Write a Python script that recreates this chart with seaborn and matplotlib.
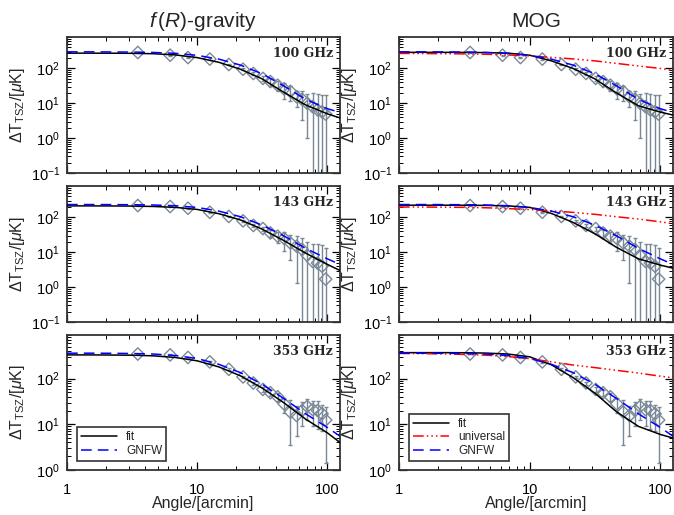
import numpy as np
import matplotlib
matplotlib.use("Agg")
import matplotlib.pyplot as plt
import seaborn as sns
from matplotlib.ticker import LogLocator, FixedLocator, FixedFormatter, NullFormatter

# measured tSZ profile (diamonds), same data in both columns
angle = [3.5, 6.2, 8.5, 12.5, 17.5, 22.5, 27, 32, 36.5, 41.5, 46.5, 52, 58, 64, 70, 77, 84, 91, 97]
dt_100 = [287, 240, 206, 186, 130, 95, 72, 52, 42, 33, 26, 22, 15.5, 13, 10, 8, 6.5, 5.7, 4.9]
err_100 = [8, 8, 8, 8, 8, 7, 7, 8, 10, 11, 13, 10, 7.5, 9.7, 9, 12, 12, 12, 13]
dt_143 = [220, 206, 184, 141, 107, 80, 59, 48, 36, 29, 25, 18.5, 15, 12, 8.2, 5.5, 4.9, 4, 1.7]
err_143 = [6, 6, 6, 6, 6, 5, 5, 7, 8, 10, 14, 12.5, 13.7, 13, 12, 12, 13, 12, 12]
dt_353 = [345, 330, 290, 232, 160, 109, 80, 58, 49, 40, 28, 18.5, 15.6, 20, 24.5, 21, 20, 17, 12.4]
err_353 = [8, 8, 8, 8, 8, 6, 6, 6, 7, 8, 10, 15, 10, 11, 12, 12, 12, 10, 11]

# model curves at these angles
curve_angle = [1, 1.5, 2.2, 3.2, 4.6, 6.8, 10, 14.7, 21.5, 31.6, 46, 68, 100, 125]
fit_fr_100 = [275, 275, 274, 272, 265, 245, 205, 150, 95, 50, 21, 9, 5, 3.8]
fit_fr_143 = [215, 215, 214, 212, 207, 195, 170, 128, 85, 46, 22, 9.5, 4.5, 3.0]
fit_fr_353 = [330, 330, 328, 325, 315, 290, 245, 180, 115, 62, 30, 13, 6.5, 4]
gnfw_100 = [300, 300, 298, 295, 288, 272, 238, 185, 125, 70, 32, 13, 7, 5.5]
gnfw_143 = [235, 235, 234, 232, 228, 217, 194, 152, 105, 60, 30, 13, 6.5, 4.5]
gnfw_353 = [360, 360, 358, 354, 345, 320, 275, 205, 135, 75, 37, 17, 8.5, 5.5]
fit_mog_100 = [290, 290, 290, 289, 286, 275, 240, 165, 100, 50, 20, 8.5, 5.6, 4.6]
fit_mog_143 = [225, 225, 225, 224, 222, 215, 195, 130, 72, 34, 14, 6.5, 4.3, 3.5]
fit_mog_353 = [370, 370, 370, 368, 362, 345, 300, 200, 105, 48, 19, 9, 6, 5]
univ_100 = [270, 268, 265, 262, 256, 245, 228, 208, 188, 165, 140, 118, 100, 88]
univ_143 = [200, 199, 197, 195, 190, 180, 168, 155, 140, 123, 105, 90, 75, 66]
univ_353 = [355, 352, 346, 338, 326, 305, 272, 233, 198, 174, 152, 132, 113, 104]

freq_labels = ["100 GHz", "143 GHz", "353 GHz"]
col_titles = [r"$f\,(R)$-gravity", "MOG"]

sns.set_style("ticks")
plt.rcParams['font.family'] = ['Liberation Sans', 'DejaVu Sans']
plt.rcParams['mathtext.fontset'] = 'custom'
plt.rcParams['mathtext.rm'] = 'Liberation Sans'
plt.rcParams['mathtext.it'] = 'Liberation Sans:italic'
plt.rcParams['mathtext.bf'] = 'Liberation Sans:bold'

data_pt = "#7a8896"

rows = [
    (dt_100, err_100, fit_fr_100, fit_mog_100, gnfw_100, univ_100, (0.1, 800)),
    (dt_143, err_143, fit_fr_143, fit_mog_143, gnfw_143, univ_143, (0.1, 800)),
    (dt_353, err_353, fit_fr_353, fit_mog_353, gnfw_353, univ_353, (1, 900)),
]

fig = plt.figure(figsize=(6.74, 5.15), dpi=100)
W, H = 674, 515
col_x = [(67, 340), (399, 673)]
row_y = [(37, 173), (186, 322), (335, 470)]

for r, (dt, err, fit_fr, fit_mog, gnfw, univ, ylim) in enumerate(rows):
    dt = np.array(dt)
    err = np.array(err)
    lo = np.minimum(err, dt * 0.999)
    for c in range(2):
        x0, x1 = col_x[c]
        y0, y1 = row_y[r]
        ax = fig.add_axes([x0 / W, 1 - y1 / H, (x1 - x0) / W, (y1 - y0) / H])
        ax.set_xscale('log')
        ax.set_yscale('log')
        ax.set_xlim(1, 125)
        ax.set_ylim(*ylim)

        # data
        ax.errorbar(angle, dt, yerr=[lo, err], fmt='none', ecolor=data_pt,
                    elinewidth=1, capsize=1.5, capthick=1, zorder=2)
        ax.scatter(angle, dt, marker='D', s=40, facecolors='none',
                   edgecolors=data_pt, linewidths=1, zorder=3)

        # models
        fit = fit_fr if c == 0 else fit_mog
        sns.lineplot(x=curve_angle, y=fit, ax=ax, color='black', lw=1.1,
                     label='fit', zorder=4)
        if c == 1:
            sns.lineplot(x=curve_angle, y=univ, ax=ax, color='red', lw=1.1,
                         linestyle=(0, (7, 2, 1, 2, 1, 2, 1, 2)),
                         label='universal', zorder=4)
        sns.lineplot(x=curve_angle, y=gnfw, ax=ax, color='blue', lw=1.1,
                     linestyle=(0, (7, 4)), label='GNFW', zorder=4)

        ax.text(0.975, 0.88, freq_labels[r], transform=ax.transAxes, ha='right',
                va='center', fontsize=9, fontweight='bold', family='DejaVu Serif')

        ax.yaxis.set_major_locator(LogLocator(base=10, numticks=10))
        ax.yaxis.set_minor_locator(LogLocator(base=10, subs=np.arange(2, 10), numticks=10))
        ax.yaxis.set_minor_formatter(NullFormatter())
        ax.xaxis.set_major_locator(FixedLocator([1, 10, 100]))
        ax.xaxis.set_minor_locator(LogLocator(base=10, subs=np.arange(2, 10), numticks=10))
        ax.xaxis.set_minor_formatter(NullFormatter())
        if r == 2:
            ax.xaxis.set_major_formatter(FixedFormatter(["1", "10", "100"]))
            ax.set_xlabel("Angle/[arcmin]", fontsize=11.5)
            ax.xaxis.set_label_coords(0.5, -0.19)
        else:
            ax.xaxis.set_major_formatter(NullFormatter())
            ax.set_xlabel("")

        ax.set_ylabel(r"$\Delta\mathrm{T}_{\mathrm{TSZ}}/[\mu\mathrm{K}]$", fontsize=11.5)
        ax.yaxis.set_label_coords(-0.145, 0.5)

        ax.tick_params(which='both', direction='in', top=True, right=True,
                       labelsize=10.5, colors='black')
        ax.tick_params(which='major', length=6, width=0.9, pad=5)
        ax.tick_params(axis='x', which='major', pad=9)
        ax.tick_params(which='minor', length=3, width=0.7)
        for sp in ax.spines.values():
            sp.set_linewidth(1.3)
            sp.set_color('#333333')

        if r == 2:
            leg = ax.legend(loc='lower left', fontsize=8.5, handlelength=3.0,
                            frameon=True, fancybox=False, edgecolor='black',
                            borderpad=0.35, labelspacing=0.15, handletextpad=0.8,
                            bbox_to_anchor=(0.015, 0.02))
            leg.get_frame().set_linewidth(1.2)
        else:
            ax.get_legend().remove()

        if r == 0:
            ax.set_title(col_titles[c], fontsize=15, pad=7)

fig.savefig("out.png", dpi=100)
